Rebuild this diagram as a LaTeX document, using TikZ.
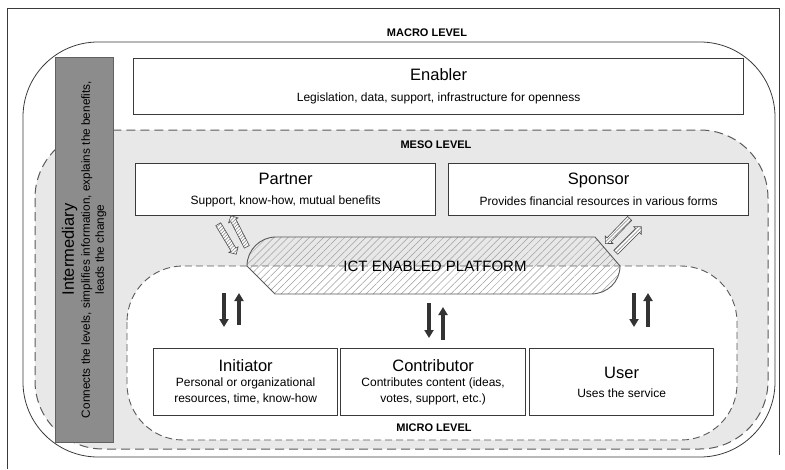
\documentclass[tikz,border=0pt]{standalone}
\usepackage{fontspec}
\setmainfont{Liberation Sans}
\usetikzlibrary{shapes.arrows,patterns.meta,arrows.meta}

\definecolor{frameline}{HTML}{3A3A3A}
\definecolor{mesofill}{HTML}{E8E8E8}
\definecolor{intfill}{HTML}{8C8C8C}
\definecolor{dashline}{HTML}{5A5A5A}
\definecolor{solidarrow}{HTML}{333333}

\newcommand\roletitle{\fontsize{16.5}{18}\selectfont}
\newcommand\rolesub{\fontsize{12}{14}\selectfont}

\begin{document}
\begin{tikzpicture}[x=1pt,y=-1pt,
  rolebox/.style={draw=frameline, line width=1.3pt, fill=white, inner sep=0pt,
    align=center, anchor=north west},
  levellabel/.style={font=\fontsize{11}{13}\selectfont\bfseries, inner sep=0pt},
  levelzone/.style={draw=dashline, line width=1pt, dash pattern=on 9pt off 5pt},
  microzone/.style={draw=dashline, line width=0.9pt, dash pattern=on 7pt off 4pt},
  hatcharrow/.style={single arrow, draw=gray!60!black, line width=0.6pt,
    preaction={fill=white},
    pattern={Lines[angle=45,distance=2.5pt,line width=0.7pt]}, pattern color=gray!85,
    minimum height=35pt, minimum width=10pt, single arrow head extend=2.5pt,
    single arrow head indent=0pt, inner xsep=0pt, inner ysep=2.5pt},
  flow/.style={draw=solidarrow, line width=4pt,
    -{Triangle[width=9pt,length=8pt]}},
]
\useasboundingbox (0,0) rectangle (785,469);

% page frame
\draw[frameline, line width=0.8pt] (7,469) -- (7,8) -- (779,8) -- (779,455);

% macro level
\draw[frameline, line width=0.8pt, rounded corners=75pt] (23,42) rectangle (775,457);
\node[levellabel] (macrolbl) at (427,33) {MACRO LEVEL};

% meso level
\draw[levelzone, fill=mesofill, rounded corners=68pt] (35,130) rectangle (768,449);
\node[levellabel] (mesolbl) at (436,145) {MESO LEVEL};

% intermediary bar
\node[draw=frameline!80, line width=1pt, fill=intfill, rotate=90,
      minimum width=385pt, minimum height=58pt, inner sep=0pt, align=center]
  (intermediary) at (84,249.5)
  {{\fontsize{16.5}{18}\selectfont Intermediary}\\[4pt]
   {\fontsize{11.8}{14}\selectfont Connects the levels, simplifies information, explains the benefits,}\\[2pt]
   {\fontsize{11.8}{14}\selectfont leads the change}};

% micro level
\draw[microzone, fill=white, rounded corners=56pt] (127,266) rectangle (737,440);
\node[levellabel] (microlbl) at (434,428) {MICRO LEVEL};

% platform
\draw[draw=dashline, line width=0.9pt,
      pattern={Lines[angle=45,distance=5pt,line width=0.5pt]}, pattern color=gray!75]
  (247,266) .. controls (247,250) and (260,237) .. (276,237) -- (595,237)
  -- (620,266) .. controls (620,282) and (607,294) .. (591,294) -- (275,294) -- cycle;
\node[font=\fontsize{15}{16}\selectfont, inner sep=0pt] (platform) at (435,266) {ICT ENABLED PLATFORM};

% macro actor
\node[rolebox, minimum width=610pt, minimum height=56pt] (enabler) at (133,58)
  {{\roletitle Enabler}\\[9pt]{\rolesub Legislation, data, support, infrastructure for openness}};

% meso actors
\node[rolebox, minimum width=300pt, minimum height=52pt] (partner) at (135,163)
  {{\roletitle Partner}\\[8pt]{\rolesub Support, know-how, mutual benefits}};
\node[rolebox, minimum width=300pt, minimum height=52pt] (sponsor) at (448,163)
  {{\roletitle Sponsor}\\[8pt]{\rolesub Provides financial resources in various forms}};

% micro actors
\node[rolebox, minimum width=184pt, minimum height=67pt] (initiator) at (153,348)
  {{\roletitle Initiator}\\[3pt]{\rolesub Personal or organizational}\\[4pt]{\rolesub resources, time, know-how}};
\node[rolebox, minimum width=185pt, minimum height=67pt] (contributor) at (340,348)
  {{\roletitle Contributor}\\[3pt]{\rolesub Contributes content (ideas,}\\[4pt]{\rolesub votes, support, etc.)}};
\node[rolebox, minimum width=184pt, minimum height=67pt] (user) at (529,348)
  {{\roletitle User}\\[7pt]{\rolesub Uses the service}};

% exchanges between the meso actors and the platform
\node[hatcharrow, rotate=-59] (partnerdown) at (226.5,238) {};
\node[hatcharrow, rotate=117] (partnerup) at (239.5,232.5) {};
\node[hatcharrow, rotate=226] (sponsordown) at (618.5,230) {};
\node[hatcharrow, rotate=45, minimum height=36pt] (sponsorup) at (627.5,240.5) {};

% exchanges between the platform and the micro actors
\coordinate (iDownA) at (224,293);   \coordinate (iDownB) at (224,327);
\coordinate (iUpA)   at (239,325);   \coordinate (iUpB)   at (239,293);
\coordinate (cDownA) at (429,303);   \coordinate (cDownB) at (429,338);
\coordinate (cUpA)   at (443,340);   \coordinate (cUpB)   at (443,307);
\coordinate (uDownA) at (634,293);   \coordinate (uDownB) at (634,327);
\coordinate (uUpA)   at (648,327);   \coordinate (uUpB)   at (648,293);
\draw[flow] (iDownA) -- (iDownB);
\draw[flow] (iUpA) -- (iUpB);
\draw[flow] (cDownA) -- (cDownB);
\draw[flow] (cUpA) -- (cUpB);
\draw[flow] (uDownA) -- (uDownB);
\draw[flow] (uUpA) -- (uUpB);
\end{tikzpicture}
\end{document}
